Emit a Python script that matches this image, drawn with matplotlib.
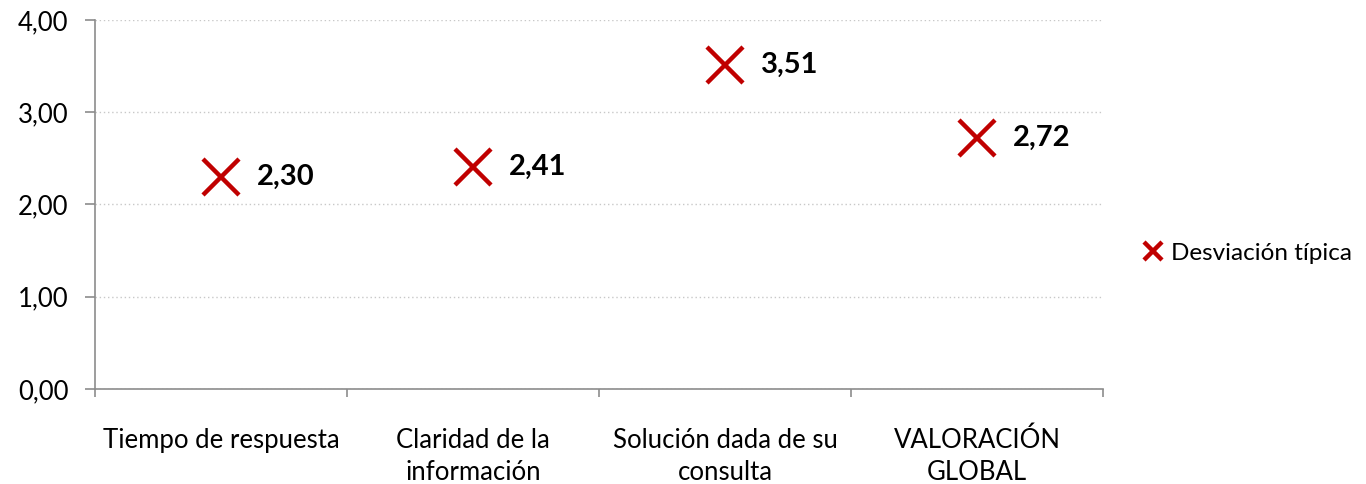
import numpy as np
import matplotlib.pyplot as plt

plt.rcParams['font.family'] = ['Lato', 'DejaVu Sans']

categorias = ['Tiempo de respuesta', 'Claridad de la\ninformación',
              'Solución dada de su\nconsulta', 'VALORACIÓN\nGLOBAL']
desviacion = [2.30, 2.41, 3.51, 2.72]
etiquetas = ['2,30', '2,41', '3,51', '2,72']
y_ticks = [0, 1, 2, 3, 4]
y_labels = ['0,00', '1,00', '2,00', '3,00', '4,00']

rojo = '#C00000'
gris = '#8c8c8c'

fig = plt.figure(figsize=(13.66, 4.84), dpi=100)
ax = fig.add_axes([0.0695, 0.1963, 0.738, 0.7624])

x = np.arange(len(categorias))
ax.plot(x, desviacion, linestyle='none', marker='x', markersize=26,
        markeredgewidth=3.2, color=rojo, label='Desviación típica')

for xi, yi, t in zip(x, desviacion, etiquetas):
    ax.annotate(t, (xi, yi), xytext=(26, 0), textcoords='offset points',
                ha='left', va='center', fontsize=21, fontweight='bold')

ax.set_xlim(-0.5, len(categorias) - 0.5)
ax.set_ylim(0, 4)
ax.set_yticks(y_ticks)
ax.set_yticklabels(y_labels, fontsize=18.5)
ax.set_xticks(x)
ax.set_xticklabels(categorias, fontsize=18.5, va='top', linespacing=1.35)
ax.tick_params(axis='x', length=0, pad=28)
ax.set_xticks(np.arange(-0.5, len(categorias)), minor=True)
ax.tick_params(axis='x', which='minor', length=6, color=gris, width=1.2)
ax.tick_params(axis='y', length=7, color=gris, width=1.2, pad=12)

ax.grid(axis='y', linestyle=(0, (1, 2)), color='#c8c8c8', linewidth=1)
ax.set_axisbelow(True)
for s in ['top', 'right']:
    ax.spines[s].set_visible(False)
for s in ['left', 'bottom']:
    ax.spines[s].set_color(gris)
    ax.spines[s].set_linewidth(1.2)

fig.legend(loc='center left', bbox_to_anchor=(0.821, 0.477), frameon=False,
           fontsize=17.5, handlelength=0.8, handletextpad=0.35, markerscale=0.5)

plt.savefig('out.png', dpi=100)
